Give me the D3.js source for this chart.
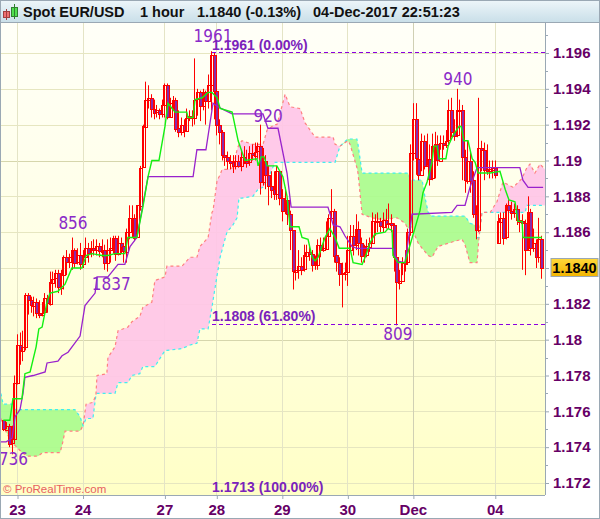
<!DOCTYPE html>
<html><head><meta charset="utf-8">
<script src="https://cdnjs.cloudflare.com/ajax/libs/d3/7.8.5/d3.min.js"></script>
<style>html,body{margin:0;padding:0;background:#fff}svg{display:block}text{font-family:"Liberation Sans",Arial,sans-serif}</style>
</head><body><div id="c"></div>
<script>
// prices are in units of 0.0001
const firstOpen = 11755;
const gapOpens = {181: 11854};
const closes = [11750,11752,11742,11745,11776,11797,11794,11796,11825,11822,11819,11821,11815,11814,11815,11823,11820,11832,11834,11837,
11829,11836,11846,11843,11846,11850,11843,11847,11842,11846,11851,11848,11851,11850,11852,11849,11850,11843,11850,11851,
11857,11848,11854,11852,11849,11860,11868,11868,11857,11875,11896,11919,11934,11935,11929,11927,11928,11926,11931,11942,
11924,11932,11934,11918,11916,11920,11917,11924,11925,11924,11934,11938,11930,11938,11933,11942,11959,11939,11920,11916,
11903,11902,11900,11899,11897,11900,11897,11902,11900,11899,11904,11903,11905,11908,11888,11900,11892,11886,11884,11881,
11894,11879,11872,11878,11870,11861,11838,11839,11841,11839,11847,11849,11848,11842,11842,11853,11850,11851,11858,11868,
11872,11847,11843,11837,11837,11838,11850,11858,11853,11862,11854,11847,11847,11852,11854,11866,11866,11866,11863,11867,
11865,11865,11864,11846,11832,11833,11843,11843,11860,11904,11923,11901,11892,11911,11897,11901,11890,11908,11909,11900,
11910,11909,11911,11928,11916,11914,11928,11928,11902,11889,11900,11889,11870,11861,11907,11906,11895,11894,11895,11896,
11892,11866,11868,11857,11875,11872,11871,11873,11867,11866,11865,11850,11871,11851,11854,11846,11856,11840];
const highs = [11755,11754,11753,11752,11780,11803,11804,11805,11826,11826,11824,11824,11823,11822,11821,11826,11825,11838,11838,11839,
11839,11839,11847,11850,11848,11857,11851,11851,11854,11850,11857,11854,11855,11856,11856,11854,11856,11853,11856,11857,
11858,11858,11858,11857,11854,11862,11875,11875,11870,11875,11897,11920,11944,11942,11937,11934,11931,11929,11934,11943,
11943,11935,11936,11935,11928,11924,11923,11929,11928,11928,11957,11940,11939,11940,11939,11948,11961,11960,11939,11923,
11917,11906,11905,11903,11903,11903,11903,11906,11908,11906,11908,11909,11910,11910,11920,11907,11903,11897,11894,11894,
11897,11894,11884,11885,11879,11872,11861,11846,11850,11846,11853,11853,11853,11850,11847,11856,11857,11857,11866,11870,
11884,11873,11850,11846,11843,11843,11858,11864,11864,11870,11866,11857,11853,11856,11857,11871,11870,11871,11868,11871,
11873,11876,11870,11865,11847,11839,11846,11850,11862,11909,11932,11932,11903,11915,11914,11915,11909,11915,11916,11914,
11914,11914,11917,11934,11935,11923,11940,11934,11931,11906,11911,11905,11894,11875,11935,11911,11910,11909,11900,11900,
11900,11870,11871,11871,11876,11878,11877,11876,11875,11870,11870,11867,11880,11873,11862,11856,11868,11858];
const lows = [11749,11750,11740,11736,11744,11775,11786,11788,11794,11814,11815,11813,11812,11812,11813,11814,11815,11819,11825,11829,
11826,11825,11828,11836,11840,11839,11840,11842,11839,11840,11846,11843,11846,11847,11847,11846,11846,11839,11838,11843,
11848,11844,11847,11848,11843,11843,11856,11857,11855,11857,11872,11896,11917,11929,11924,11923,11924,11923,11924,11924,
11923,11924,11928,11916,11913,11914,11913,11917,11922,11919,11920,11925,11922,11928,11920,11929,11928,11923,11914,11909,
11900,11897,11895,11895,11893,11895,11896,11894,11898,11896,11897,11900,11900,11901,11881,11886,11884,11875,11879,11878,
11878,11875,11866,11870,11864,11850,11828,11833,11834,11836,11838,11843,11844,11838,11839,11839,11846,11849,11850,11857,
11867,11843,11838,11830,11818,11833,11830,11849,11847,11850,11847,11843,11843,11846,11849,11854,11858,11860,11860,11860,
11862,11862,11860,11838,11808,11828,11836,11838,11842,11858,11900,11892,11889,11894,11895,11897,11886,11889,11890,11897,
11906,11906,11907,11910,11913,11911,11913,11917,11889,11882,11887,11882,11868,11856,11860,11894,11889,11892,11890,11890,
11890,11854,11856,11853,11856,11868,11867,11868,11864,11860,11839,11836,11850,11847,11849,11840,11843,11834];

const tenkanIdx = [0,2.4,3.5,6.8,7.9,9.8,10.9,12,13,14.2,16,17.1,20,22.6,25.1,28.8,30.3,32.5,36.1,38.3,40.9,44.5,45.6,48.9,51.1,53,54.4,57,59.2,60.3,61.8,62.9,67.2,67.6,69.5,70.2,72.8,75,76.4,78.3,79.4,83.8,86,88.5,92.9,93.3,94.4,95.5,96.6,100.2,102.4,103.9,105,108.3,109.4,111.6,113.1,114.2,115.3,117.8,119.6,121.5,123,127,128.1,131.4,132.5,134.3,136.1,139.8,140.9,142.4,142.7,144.6,147.1,152.6,153.7,155.2,157,157.7,158.8,159.6,162.1,162.9,164.7,166.9,167.7,168.7,170.2,171.7,172.8,173.9,178.3,181.9,183.8,185.2,187.4,188.5,190,190.3,195.8,197.3];
const tenkan = [11755,11755,11767,11767,11781,11782,11789,11796,11806,11807,11821,11826,11827,11831,11840,11840,11847,11848,11847,11847,11848,11848,11857,11857,11874,11891,11900,11900,11919,11932,11929,11927,11927,11924,11924,11934,11935,11938,11938,11935,11929,11927,11911,11900,11901,11897,11902,11902,11897,11897,11891,11880,11863,11863,11857,11856,11846,11844,11846,11857,11862,11857,11851,11851,11843,11842,11846,11854,11859,11860,11862,11861,11847,11843,11843,11872,11882,11888,11899,11908,11908,11901,11901,11908,11914,11919,11919,11911,11911,11901,11899,11893,11893,11894,11884,11878,11877,11866,11866,11857,11857,11857];

const kijunIdx = [-1,1,3.2,4.3,6.1,7.2,7.9,10.9,15.3,16,20,21.5,23.7,28.1,29.9,33.6,34.3,38.3,42,44.5,46.4,48.9,53,69.5,70.9,74.2,76.8,78.6,81.2,83.8,95.1,96.9,100.6,103.9,105.4,118.9,120.8,123.3,125.1,127.7,129.5,142.7,144.2,147.1,149.7,164.3,166.2,169.1,170.9,173.5,189.2,190.3,192.2,196.6,197.7];
const kijun = [11743,11743,11745,11757,11761,11770,11779,11780,11782,11787,11788,11791,11793,11802,11819,11826,11835,11835,11842,11842,11852,11857,11891,11891,11906,11906,11932,11930,11928,11926,11926,11918,11918,11893,11874,11874,11864,11863,11858,11852,11851,11851,11844,11843,11870,11871,11875,11875,11885,11896,11896,11889,11885,11885,11885];

const cloudIdx = [-0.9,-0.1,3.2,4.3,6.8,8.7,12.7,14.5,20.8,21.8,22.6,26.2,28.1,29.2,30.3,32.8,33.9,34.3,37.9,38.3,40.9,42,45.6,47.1,50,51.1,54.4,55.5,59.2,59.9,65.4,68.4,70.9,72,75,76.4,76.8,78.3,79.4,80.1,81.9,84.1,85.6,86.3,87.4,91.4,93.3,95.1,96.6,98.4,99.5,100.2,102,103.2,105,108.7,110.5,114.2,117.8,120.8,121.5,123.3,126.2,127,129.5,129.9,131.4,135,139,144.2,147.1,148.2,149.3,151.9,153.4,154.5,155.6,157,159.2,165.4,168,169.1,170.9,172.8,173.5,174.2,175.3,178.3,180.8,183,186.7,190,191.1,191.8,192.9,194.7,196.6,198.4];
const spanA = [11756,11752,11742,11741,11737,11735,11735,11737,11737,11743,11749,11749,11749,11752,11764,11765,11769,11780,11781,11790,11796,11805,11807,11810,11813,11818,11821,11833,11835,11841,11841,11846,11846,11852,11857,11871,11872,11889,11892,11895,11895,11896,11906,11909,11911,11909,11909,11909,11917,11919,11920,11920,11930,11937,11930,11929,11921,11913,11913,11913,11909,11908,11911,11909,11896,11893,11870,11868,11867,11868,11865,11862,11863,11854,11851,11849,11847,11846,11852,11855,11856,11853,11843,11843,11843,11857,11871,11871,11877,11888,11885,11890,11894,11896,11898,11893,11898,11895];
const spanB = [11770,11764,11764,11761,11761,11761,11761,11761,11761,11761,11761,11761,11757,11752,11756,11756,11769,11770,11770,11770,11770,11776,11776,11780,11781,11785,11785,11785,11794,11794,11795,11797,11798,11806,11806,11818,11822,11836,11846,11850,11860,11864,11868,11879,11879,11880,11884,11885,11889,11895,11899,11899,11899,11899,11899,11899,11899,11899,11899,11899,11899,11908,11912,11912,11912,11909,11893,11893,11893,11893,11893,11893,11889,11889,11889,11879,11871,11869,11869,11869,11869,11869,11865,11864,11857,11857,11871,11871,11871,11871,11871,11871,11871,11875,11875,11875,11875,11875];

const yGrid = [1.172,1.174,1.176,1.178,1.18,1.182,1.184,1.186,1.188,1.19,1.192,1.194,1.196];
const yMinor = [1.173,1.175,1.177,1.179,1.181,1.183,1.185,1.187,1.189,1.191,1.193,1.195,1.197];
const dayIdx = [5,29,59,78,102,126,150,180];
const dayLabels = ["23","24","27","28","29","30","Dec","04"];
const pivotLabels = ["1961","920","856","1837","1736","940","809"];
const pivotIdx = [76.8,97,25.5,39.5,1.9,166.5,144.5];
const pivotPrice = [1.1966,1.19215,1.18618,1.18278,1.17301,1.19421,1.18];
const fibLabels = ["1.1961 (0.00%)","1.1808 (61.80%)","1.1713 (100.00%)"];
const fibLabelPrice = [1.19617,1.18105,1.1715];
const fibLines = [1.19606,1.1809];
const titleParts = ["Spot EUR/USD","1 hour","1.1840 (-0.13%)","04-Dec-2017 22:51:23"];
const titleX = [23,140,197,313];
const lastPrice = "1.1840";

const W=600,H=519,L=1,R=545,T=23,B=495;
const svg=d3.select("#c").append("svg").attr("width",W).attr("height",H);
const defs=svg.append("defs");
const g1=defs.append("linearGradient").attr("id","bg").attr("x1",0).attr("x2",0).attr("y1",0).attr("y2",1);
g1.append("stop").attr("offset","0%").attr("stop-color","#fffff8");
g1.append("stop").attr("offset","50%").attr("stop-color","#ffffe4");
g1.append("stop").attr("offset","100%").attr("stop-color","#ffffc6");
const g2=defs.append("linearGradient").attr("id","tb").attr("x1",0).attr("x2",0).attr("y1",0).attr("y2",1);
g2.append("stop").attr("offset","0%").attr("stop-color","#eef6fa");
g2.append("stop").attr("offset","100%").attr("stop-color","#c8dee8");
const g3=defs.append("linearGradient").attr("id","gold").attr("x1",0).attr("x2",0).attr("y1",0).attr("y2",1);
g3.append("stop").attr("offset","0%").attr("stop-color","#ffd83a");
g3.append("stop").attr("offset","100%").attr("stop-color","#f2b400");
defs.append("clipPath").attr("id","plot").append("rect").attr("x",L).attr("y",T).attr("width",R-L).attr("height",B-T);

const x=d3.scaleLinear().domain([0,197]).range([3.35,541.2]);
const y=d3.scaleLinear().domain([1.172,1.196]).range([483,53]);
const py=v=>y(v/1e4);

svg.append("rect").attr("width",W).attr("height",H).attr("fill","#fff");
svg.append("rect").attr("x",L).attr("y",T).attr("width",R-L).attr("height",B-T).attr("fill","url(#bg)");

// grid
const grid=svg.append("g").attr("clip-path","url(#plot)");
grid.selectAll(".h").data(yGrid).join("line").attr("x1",L).attr("x2",R)
 .attr("y1",d=>Math.round(y(d))+.5).attr("y2",d=>Math.round(y(d))+.5)
 .attr("stroke",d=>d===1.19||d===1.18?"#d6d6ac":"#e6e6c0").attr("stroke-width",1);
grid.selectAll(".v").data(dayIdx).join("line").attr("y1",T).attr("y2",B)
 .attr("x1",d=>Math.round(x(d))+.5).attr("x2",d=>Math.round(x(d))+.5)
 .attr("stroke",(d,i)=>dayLabels[i]==="Dec"?"#d0d0b4":"#e4e4c6").attr("stroke-width",1);

// cloud
const plot=svg.append("g").attr("clip-path","url(#plot)");
const pts=cloudIdx.map((d,i)=>({i:d,a:spanA[i],b:spanB[i]}));
const area=d3.area().x(d=>x(d.i)).y0(d=>py(d.a)).y1(d=>py(d.b));
plot.append("path").attr("d",area.defined(d=>d.a>=d.b)(pts)).attr("fill","#ffc4e8").attr("opacity",.9);
plot.append("path").attr("d",area.defined(d=>d.a<=d.b)(pts)).attr("fill","#a8fc8c").attr("opacity",.9);
const lineA=d3.line().x(d=>x(d.i)).y(d=>py(d.a));
const lineB=d3.line().x(d=>x(d.i)).y(d=>py(d.b));
plot.append("path").attr("d",lineB(pts)).attr("fill","none").attr("stroke","#40eef0").attr("stroke-width",1.2).attr("stroke-dasharray","3,3");
plot.append("path").attr("d",lineA(pts)).attr("fill","none").attr("stroke","#ff8080").attr("stroke-width",1.2).attr("stroke-dasharray","3,3");

// candles
const bars=closes.map((c,i)=>({i,c,h:highs[i],l:lows[i],o:gapOpens[i]!==undefined?gapOpens[i]:(i===0?firstOpen:closes[i-1])}));
const bx=d=>Math.round(x(d.i));
const cg=plot.append("g");
cg.selectAll(".w").data(bars).join("line").attr("x1",d=>bx(d)+.5).attr("x2",d=>bx(d)+.5)
 .attr("y1",d=>py(d.h)).attr("y2",d=>py(d.l)).attr("stroke","#ff0000").attr("stroke-width",1);
cg.selectAll(".b").data(bars).join("rect")
 .attr("x",d=>bx(d)-1).attr("width",3).attr("shape-rendering","crispEdges")
 .attr("y",d=>Math.round(py(Math.max(d.o,d.c)))+.5)
 .attr("height",d=>Math.max(1,Math.round(Math.abs(py(d.o)-py(d.c)))))
 .attr("fill",d=>d.c<d.o?"#8a2aa8":"none").attr("stroke","#ff0000").attr("stroke-width",1);

// ichimoku lines
const ln=d3.line().x(d=>x(d[0])).y(d=>py(d[1]));
plot.append("path").attr("d",ln(kijunIdx.map((d,i)=>[d,kijun[i]]))).attr("fill","none").attr("stroke","#9922cc").attr("stroke-width",1.3);
plot.append("path").attr("d",ln(tenkanIdx.map((d,i)=>[d,tenkan[i]]))).attr("fill","none").attr("stroke","#12f012").attr("stroke-width",1.4);

// fib lines
plot.selectAll(".f").data(fibLines).join("line")
 .attr("x1",x(76.5)).attr("x2",R).attr("y1",d=>Math.round(y(d))+.5).attr("y2",d=>Math.round(y(d))+.5)
 .attr("stroke","#8a00e0").attr("stroke-width",1).attr("stroke-dasharray","4,3").attr("shape-rendering","crispEdges");
svg.selectAll(".ft").data(fibLabels).join("text").attr("x",212).attr("y",(d,i)=>y(fibLabelPrice[i]))
 .attr("font-size",14).attr("font-weight","bold").attr("fill","#7a22bb").text(d=>d);

// pivots
plot.selectAll(".p").data(pivotLabels).join("text").attr("x",(d,i)=>x(pivotIdx[i])).attr("y",(d,i)=>y(pivotPrice[i]))
 .attr("text-anchor","middle").attr("font-size",17).attr("fill","#8a2ac8")
 .style("font-family","'DejaVu Sans'").style("font-stretch","condensed").text(d=>d);

// copyright
svg.append("text").attr("x",3).attr("y",493).attr("font-size",11.5).attr("fill","#e86060").text("© ProRealTime.com");

// axes
const ax=svg.append("g").attr("transform",`translate(0,${B})`).call(d3.axisBottom(x).tickValues(dayIdx).tickSize(4).tickFormat((d,i)=>dayLabels[i]));
ax.select(".domain").attr("stroke","#9aa8b4").attr("d",`M${L},0.5H${R}`);
ax.selectAll("line").attr("stroke","#9aa8b4").attr("x1",.5).attr("x2",.5);
ax.selectAll("text").attr("y",9).attr("dy",".71em").style("font-family","'Liberation Sans'").attr("font-size",15).attr("font-weight","bold").attr("fill","#660066");

const ay=svg.append("g").attr("transform",`translate(${R},0)`).call(d3.axisRight(y).tickValues(yGrid).tickSize(4).tickFormat(d=>Math.abs(d-1.184)<1e-6?"":String(+d.toFixed(3))));
ay.select(".domain").attr("stroke","#9aa8b4").attr("d",`M0.5,${T}V${B}`);
ay.selectAll("line").attr("stroke","#9aa8b4");
ay.selectAll("text").attr("x",8).style("font-family","'Liberation Sans'").attr("font-size",15).attr("font-weight","bold").attr("fill","#660066");
svg.append("g").selectAll("line").data(yMinor).join("line").attr("x1",R).attr("x2",R+3)
 .attr("y1",d=>Math.round(y(d))+.5).attr("y2",d=>Math.round(y(d))+.5).attr("stroke","#9aa8b4");

// last price box
const lp=y(1.184);
svg.append("rect").attr("x",551).attr("y",lp-9.5).attr("width",47).attr("height",18).attr("fill","url(#gold)").attr("stroke","#9aa8b4");
svg.append("text").attr("x",574.5).attr("y",lp+5).attr("text-anchor","middle").attr("font-size",14.5).attr("font-weight","bold").attr("fill","#000").text(lastPrice);

// title
svg.append("rect").attr("x",0).attr("y",0).attr("width",W).attr("height",23).attr("fill","url(#tb)");
svg.append("line").attr("x1",0).attr("x2",W).attr("y1",22.5).attr("y2",22.5).attr("stroke","#9aa8b4");
svg.append("rect").attr("x",3.5).attr("y",11.5).attr("width",6).attr("height",6).attr("fill","#f07070").attr("stroke","#a04040");
svg.append("line").attr("x1",6.5).attr("x2",6.5).attr("y1",9).attr("y2",20).attr("stroke","#a04040");
svg.append("rect").attr("x",11.5).attr("y",7.5).attr("width",6).attr("height",9).attr("fill","#50e050").attr("stroke","#308030");
svg.append("line").attr("x1",14.5).attr("x2",14.5).attr("y1",4).attr("y2",19).attr("stroke","#308030");
svg.selectAll(".tt").data(titleParts).join("text").attr("x",(d,i)=>titleX[i]).attr("y",17).attr("font-size",14.5).attr("font-weight","bold").attr("fill","#111").text(d=>d);

// frame
svg.append("rect").attr("x",.5).attr("y",.5).attr("width",W-1).attr("height",H-1).attr("fill","none").attr("stroke","#9aa8b4");
</script></body></html>
